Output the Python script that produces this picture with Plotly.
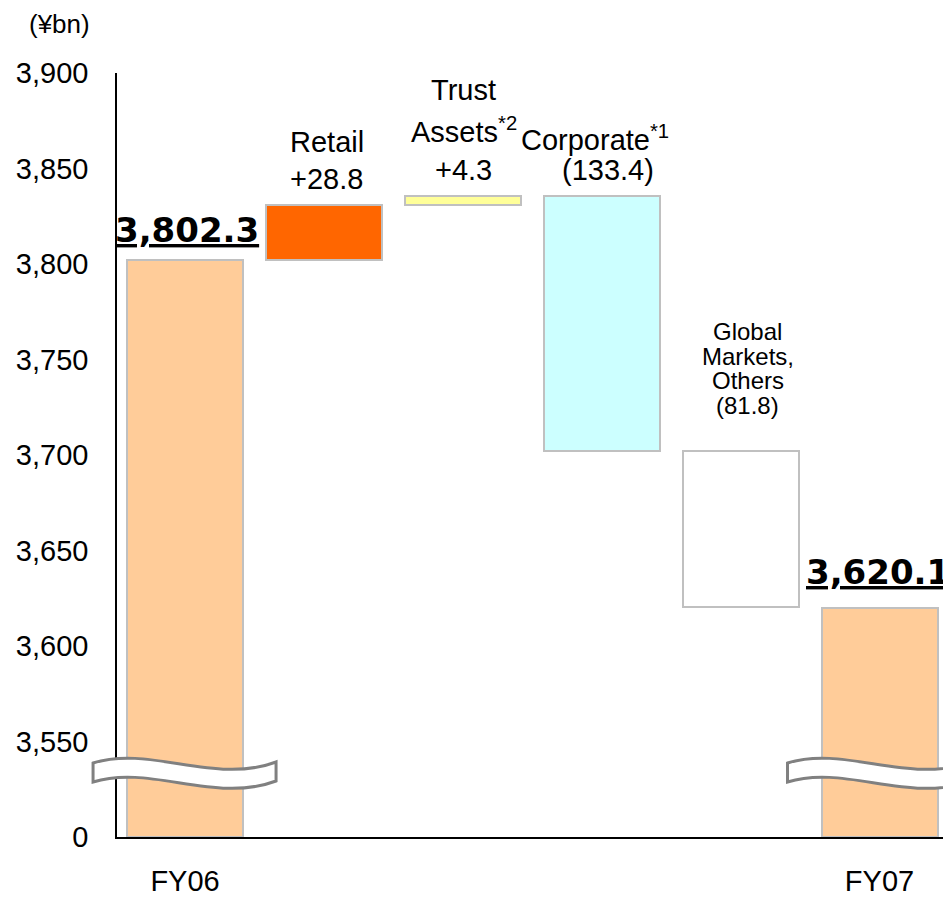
import plotly.graph_objects as go

# ---------------- data ----------------
categories = ["FY06", "Retail", "Trust Assets", "Corporate", "Global Markets, Others", "FY07"]
x_tick_labels = ["FY06", "", "", "", "", "FY07"]
start_value = 3802.3
deltas = [28.8, 4.3, -133.4, -81.8]
end_value = 3620.1
axis_floor = 3500          # shown as "0" on the broken axis
y_tick_vals = [3500, 3550, 3600, 3650, 3700, 3750, 3800, 3850, 3900]
y_tick_text = ["0", "3,550", "3,600", "3,650", "3,700", "3,750", "3,800", "3,850", "3,900"]
delta_names = [["Retail"], ["Trust", "Assets<sup>*2</sup>"], ["Corporate<sup>*1</sup>"],
               ["Global", "Markets,", "Others"]]
bar_colors = ["#FFCC99", "#FF6600", "#FFFF99", "#CCFFFF", "#FFFFFF", "#FFCC99"]

# ---------------- geometry ----------------
W, H = 943, 902
ML, MR, MT, MB = 117, 0, 73, 65
X_RANGE = [-0.49, 5.457]
Y_RANGE = [3500, 3900]
plot_w = W - ML - MR
plot_h = H - MT - MB
px_per_x = plot_w / (X_RANGE[1] - X_RANGE[0])

# waterfall bases / heights
bases, heights, tops = [], [], []
bases.append(axis_floor); heights.append(start_value - axis_floor); tops.append(start_value)
running = start_value
for d in deltas:
    lo = running if d > 0 else running + d
    bases.append(lo); heights.append(abs(d)); tops.append(lo + abs(d))
    running += d
bases.append(axis_floor); heights.append(end_value - axis_floor); tops.append(end_value)

xs = list(range(len(categories)))
tick_pos = [x for x, t in zip(xs, x_tick_labels) if t]
tick_txt = [t for t in x_tick_labels if t]

fig = go.Figure()
fig.add_trace(go.Bar(
    x=xs, y=heights, base=bases, width=0.835,
    marker=dict(color=bar_colors, line=dict(color="#C0C0C0", width=2)),
    hoverinfo="skip", showlegend=False,
))

FONT = "Liberation Sans, Arial, sans-serif"

def fmt_delta(d):
    return f"+{d:.1f}" if d > 0 else f"({abs(d):.1f})"

annotations = []
# line layout (pixel offsets above bar top for line centres, xshift)
line_specs = {
    1: dict(size=29, offs=[63, 26], xs=[3, 3]),
    2: dict(size=29, offs=[106, 66, 26], xs=[1, 1, 1]),
    3: dict(size=29, offs=[58, 26], xs=[-7, 6]),
    4: dict(size=24, offs=[120, 95, 71, 46], xs=[7, 7, 7, 7]),
}
for k, (names, d) in enumerate(zip(delta_names, deltas), start=1):
    lines = names + [fmt_delta(d)]
    spec = line_specs[k]
    for txt, off, xsft in zip(lines, spec["offs"], spec["xs"]):
        annotations.append(dict(
            x=k, y=tops[k], xref="x", yref="y", text=txt, showarrow=False,
            xanchor="center", yanchor="middle", yshift=off, xshift=xsft,
            font=dict(family=FONT, size=spec["size"], color="black"),
        ))

# totals
for idx, val, ysh, xsh in [(0, start_value, 30, 2), (5, end_value, 36, -2)]:
    annotations.append(dict(
        x=idx, y=val, xref="x", yref="y", text=f"<b><u>{val:,.1f}</u></b>",
        showarrow=False, xanchor="center", yanchor="middle", yshift=ysh, xshift=xsh,
        font=dict(family="DejaVu Sans, Verdana, sans-serif", size=34, color="black"),
    ))

# unit label
annotations.append(dict(
    x=(59 - ML) / plot_w, y=(H - MB - 24) / plot_h, xref="paper", yref="paper",
    text="(¥bn)", showarrow=False, xanchor="center", yanchor="middle",
    font=dict(family=FONT, size=26, color="black"),
))

# axis break symbols
def px_to_paper(i, dx, up):
    px = (i - X_RANGE[0]) * px_per_x + dx
    return px / plot_w, up / plot_h

top_curve = [(-92, 74), (-35, 92), (30, 52), (91, 75)]
bottom_curve = [(91, 56), (30, 33), (-35, 73), (-92, 55)]
shapes = []
for i in (0, 5):
    tc = [px_to_paper(i, dx, up) for dx, up in top_curve]
    bc = [px_to_paper(i, dx, up) for dx, up in bottom_curve]
    path = (f"M {tc[0][0]},{tc[0][1]} C {tc[1][0]},{tc[1][1]} {tc[2][0]},{tc[2][1]} {tc[3][0]},{tc[3][1]} "
            f"L {bc[0][0]},{bc[0][1]} C {bc[1][0]},{bc[1][1]} {bc[2][0]},{bc[2][1]} {bc[3][0]},{bc[3][1]} Z")
    shapes.append(dict(type="path", path=path, xref="paper", yref="paper",
                       fillcolor="white", line=dict(color="#808080", width=3), layer="above"))

fig.update_layout(
    width=W, height=H,
    margin=dict(l=ML, r=MR, t=MT, b=MB, pad=0),
    paper_bgcolor="white", plot_bgcolor="white",
    bargap=0,
    xaxis=dict(range=X_RANGE, tickvals=tick_pos, ticktext=tick_txt, showgrid=False,
               zeroline=False, showline=True, linecolor="black", linewidth=1.5,
               ticks="", ticklabelstandoff=17,
               tickfont=dict(family=FONT, size=29, color="black")),
    yaxis=dict(range=Y_RANGE, tickvals=y_tick_vals, ticktext=y_tick_text, showgrid=False,
               zeroline=False, showline=True, linecolor="black", linewidth=1.5,
               ticks="", ticklabelstandoff=21,
               tickfont=dict(family=FONT, size=29, color="black")),
    annotations=annotations,
    shapes=shapes,
    font=dict(family=FONT, color="black"),
)

fig.write_html("out.html")
